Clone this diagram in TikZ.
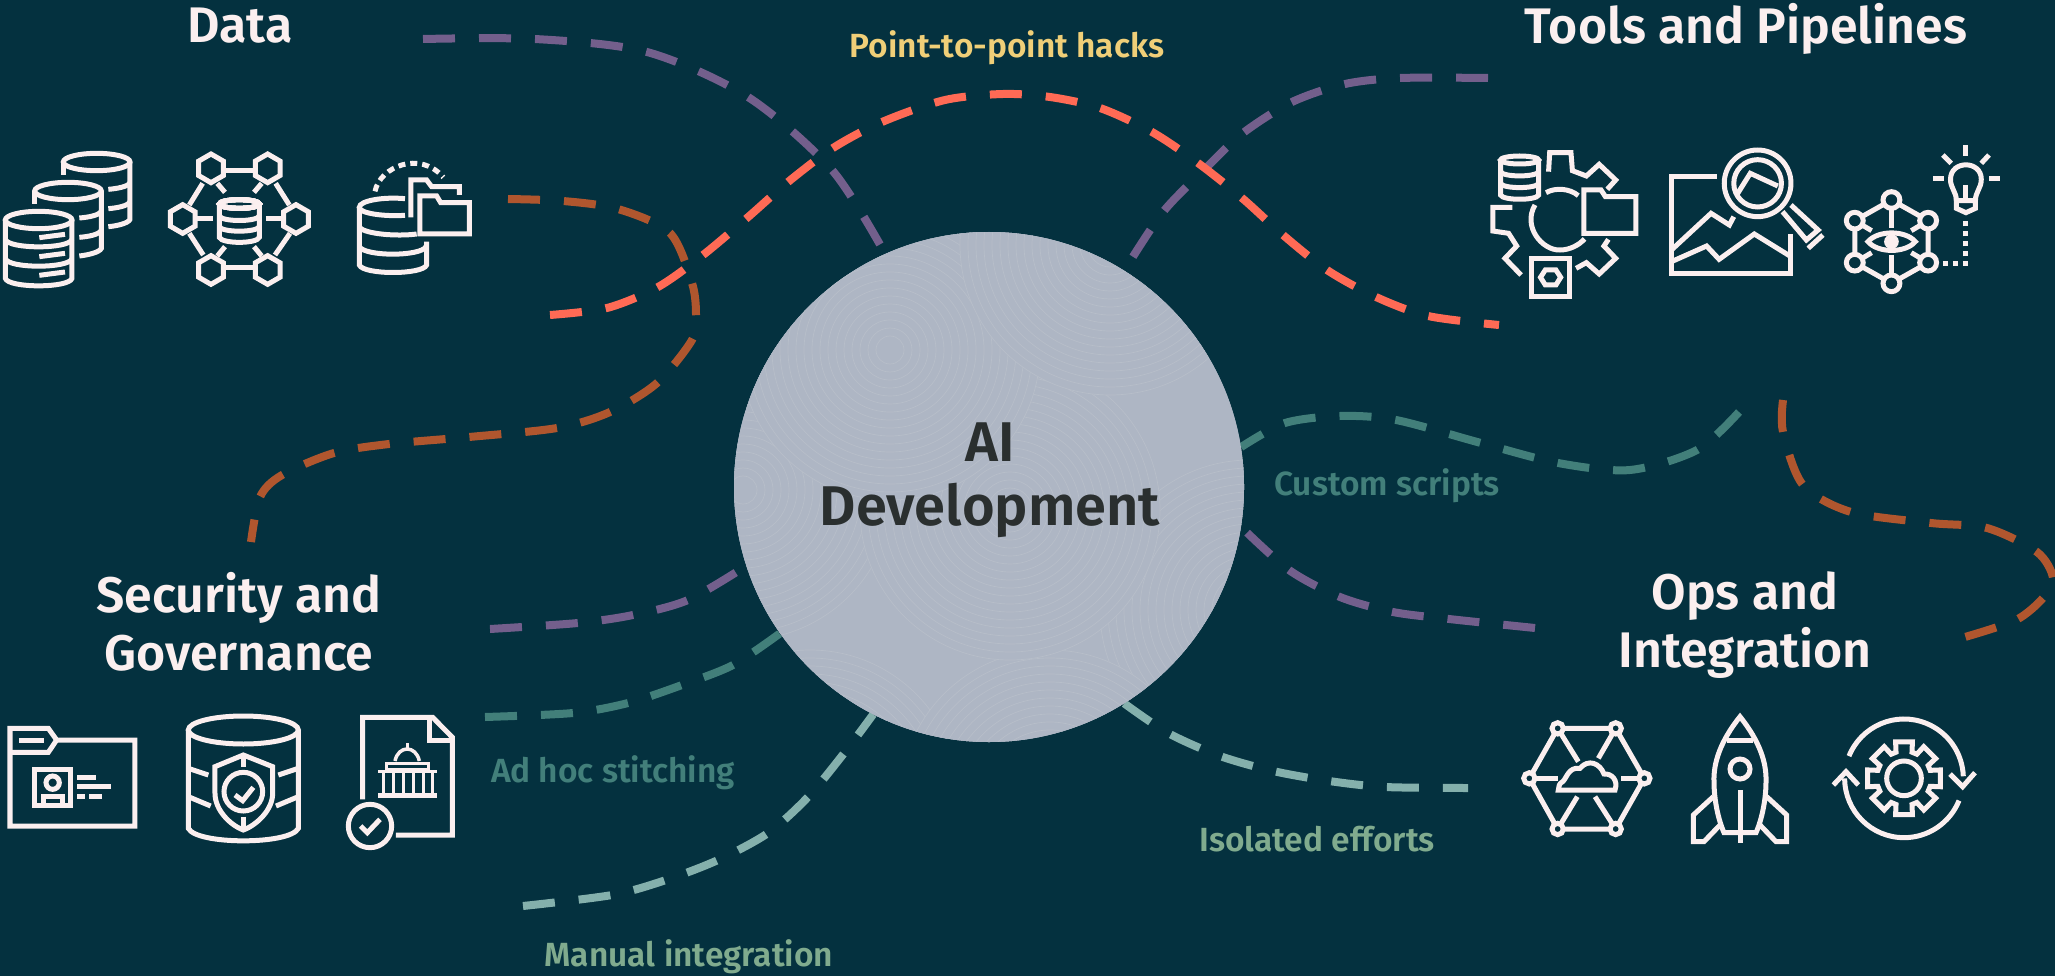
\documentclass[tikz,border=0pt]{standalone}
\usepackage{fontspec}
\setmainfont{Fira Sans}[BoldFont={Fira Sans SemiBold}]
\definecolor{bgc}{HTML}{04313F}
\definecolor{corec}{HTML}{AEB6C4}
\definecolor{swirlc}{HTML}{B7BEC9}
\definecolor{inkc}{HTML}{2A2F2F}
\definecolor{iconc}{HTML}{FBEFEF}
\definecolor{redc}{HTML}{FF6A55}
\definecolor{purplec}{HTML}{735F8C}
\definecolor{brownc}{HTML}{B0562E}
\definecolor{tealc}{HTML}{427F7A}
\definecolor{paletealc}{HTML}{84B0AC}
\definecolor{yellowc}{HTML}{F0CF78}
\definecolor{greenc}{HTML}{80AB8E}
\tikzset{
    title/.style={text=iconc, align=center, font={\fontsize{50}{58}\selectfont\bfseries}},
    tag/.style={font={\fontsize{33.5}{38}\selectfont\bfseries}},
    wire/.style={line width=8pt, dash pattern=on 32pt off 24pt},
    icon/.style={draw=iconc, line width=5pt},
    thin icon/.style={draw=iconc, line width=3.5pt},
    zoomed/.style={x=0.33333pt, y=-0.33333pt},
    zoomedb/.style={x=0.3667pt, y=-0.33333pt}
}
% pointy hexagon: x, y, radius
\newcommand{\hexat}[3]{\draw[icon, shift={(#1,#2)}] (90:#3) -- (30:#3) -- (-30:#3) -- (-90:#3) -- (-150:#3) -- (150:#3) -- cycle;}
\begin{document}
\begin{tikzpicture}[x=1pt, y=-1pt]
    \fill[bgc] (0,0) rectangle (2055,976);
    \useasboundingbox (0,0) rectangle (2055,976);

    % Hub
    \node[circle, fill=corec, minimum size=510pt, inner sep=0pt] (core) at (989,487) {};

    % Wire ends
    \coordinate (pa) at (423,39);
    \coordinate (pb) at (1488,78);
    \coordinate (pc) at (1535,628);
    \coordinate (pd) at (490,629);
    \coordinate (ra) at (550,315);
    \coordinate (rb) at (1499,325);
    \coordinate (ba) at (508,199);
    \coordinate (bb) at (251,542);
    \coordinate (bc) at (1783,400);
    \coordinate (bd) at (1965,637);
    \coordinate (ta) at (1739,412);
    \coordinate (tb) at (485,717);
    \coordinate (la) at (1468,788);
    \coordinate (lb) at (523,906);

    % Wires
    \draw[wire, purplec] plot[smooth] coordinates {(pa) (535,39) (647,52) (748,97) (832,170) (core.114.5)};
    \draw[wire, purplec] plot[smooth] coordinates {(pb) (1400,78) (1345,84) (1292,102) (1243,133) (1207,167) (1163,212) (core.58)};
    \draw[wire, purplec] plot[smooth] coordinates {(pc) (1449,619) (1393,612) (1340,597) (1289,570) (core.-9.5)};
    \draw[wire, purplec] plot[smooth] coordinates {(pd) (578,623) (633,615) (688,600) (core.-162)};
    \draw[wire, redc] plot[smooth] coordinates {(ra) (607,308) (658,287) (703,255) (747,218) (788,182) (833,148) (882,122) (945,100) (1003,94) (1050,97) (1100,108) (1152,132) (1198,163) (1242,198) (1283,235) (1327,270) (1376,297) (1428,316) (rb)};
    \draw[wire, brownc] plot[smooth] coordinates {(ba) (563,201) (618,209) (670,233) (692,283) (696,315) (692,340) (657,383) (610,412) (557,428) (469,437) (389,444) (334,453) (282,475) (260,497) (bb)};
    \draw[wire, brownc] plot[smooth] coordinates {(bc) (1783,432) (1803,485) (1851,512) (1931,523) (1987,528) (2037,552) (2053,578) (2043,598) (2016,620) (bd)};
    \draw[wire, tealc] plot[smooth] coordinates {(ta) (1697,450) (1630,470) (1558,463) (1481,443) (1396,420) (1340,416) (1285,423) (core.9)};
    \draw[wire, tealc] plot[smooth] coordinates {(tb) (573,713) (628,703) (682,685) (733,665) (core.-145)};
    \draw[wire, paletealc] plot[smooth] coordinates {(core.-58) (1168,733) (1220,756) (1273,771) (1329,781) (1385,787) (la)};
    \draw[wire, paletealc] plot[smooth] coordinates {(lb) (612,895) (666,880) (718,860) (768,833) (808,797) (845,752) (core.-117)};

    % Hub texture
    \node[circle, fill=corec, minimum size=510pt, inner sep=0pt] at (core.center) {};
    \begin{scope}
        \clip (989,487) circle[radius=255];
        \foreach \cx/\cy in {743/490, 1250/610, 810/800, 1050/800, 1010/510, 890/350, 1110/245}{
            \fill[corec] (\cx,\cy) circle[radius=150];
            \foreach \r in {14,22,...,150}
                \draw[swirlc, line width=0.7pt] (\cx,\cy) circle[radius=\r];
        }
    \end{scope}
    \node[text=inkc, align=center, font={\fontsize{56}{64}\selectfont\bfseries}] (corelabel) at (990,480) {AI\\Development};

    % Titles
    \node[title] (data) at (240,26) {Data};
    \node[title] (tools) at (1746,29) {Tools and Pipelines};
    \node[title] (security) at (239,622) {Security and\\Governance};
    \node[title] (ops) at (1745,625) {Ops and\\Integration};

    % Wire labels
    \node[tag, text=yellowc] (hacks) at (1007,48) {Point-to-point hacks};
    \node[tag, text=tealc] (scripts) at (1387,486) {Custom scripts};
    \node[tag, text=tealc] (stitching) at (613,773) {Ad hoc stitching};
    \node[tag, text=greenc] (isolated) at (1317,839) {Isolated efforts};
    \node[tag, text=greenc] (manual) at (689,957) {Manual integration};

    % Data icons
    \begin{scope}[shift={(0,130)}, zoomed]
        \draw[icon] (290,96) circle[x radius=100, y radius=26];
        \draw[icon] (190,96) -- (190,135);
        \draw[icon] (390,96) -- (390,268) .. controls (385,280) and (350,288) .. (325,290);
        \draw[icon] (325,178) .. controls (350,176) and (385,170) .. (390,158);
        \draw[icon] (325,236) .. controls (350,234) and (385,228) .. (390,215);
        \draw[icon] (204,183) circle[x radius=100, y radius=26];
        \draw[icon] (104,183) -- (104,222);
        \draw[icon] (304,183) -- (304,355) .. controls (299,367) and (264,375) .. (238,378);
        \draw[icon] (238,264) .. controls (264,262) and (299,256) .. (304,243);
        \draw[icon] (238,322) .. controls (264,320) and (299,314) .. (304,300);
        \draw[icon] (116,270) circle[x radius=100, y radius=26];
        \draw[icon] (16,270) -- (16,445) .. controls (25,475) and (207,475) .. (216,445) -- (216,270);
        \draw[icon] (16,328) .. controls (25,358) and (207,358) .. (216,328);
        \draw[icon] (16,386) .. controls (25,416) and (207,416) .. (216,386);
        \draw[icon] (118,323) -- (195,313);
        \draw[icon] (118,380) -- (195,370);
        \draw[icon] (118,436) -- (195,426);
        % network
        \draw[icon] (677,122) -- (760,122);
        \draw[icon] (677,412) -- (760,412);
        \draw[icon] (608,160) -- (568,225);
        \draw[icon] (827,160) -- (868,225);
        \draw[icon] (568,310) -- (610,375);
        \draw[icon] (870,310) -- (825,375);
        \draw[icon] (652,160) -- (675,187);
        \draw[icon] (785,160) -- (762,187);
        \draw[icon] (652,378) -- (675,350);
        \draw[icon] (785,378) -- (762,350);
        \draw[icon] (590,267) -- (638,267);
        \draw[icon] (798,267) -- (845,267);
        \foreach \hx/\hy in {633/115, 803/115, 548/267, 888/267, 633/420, 803/420}
            \hexat{\hx}{\hy}{43}
        \draw[icon] (718,222) circle[x radius=60, y radius=13];
        \draw[icon] (658,222) -- (658,322) .. controls (665,342) and (771,342) .. (778,322) -- (778,222);
        \draw[icon] (658,258) .. controls (665,276) and (771,276) .. (778,258);
        \draw[icon] (658,290) .. controls (665,308) and (771,308) .. (778,290);
        % database with folders
        \draw[icon] (1215,206) .. controls (1150,200) and (1078,212) .. (1078,232) .. controls (1078,250) and (1150,260) .. (1215,256);
        \draw[icon] (1078,232) -- (1078,405) .. controls (1090,435) and (1268,435) .. (1280,405) -- (1280,335);
        \draw[icon] (1078,292) .. controls (1095,312) and (1190,320) .. (1250,312);
        \draw[icon] (1078,350) .. controls (1095,380) and (1262,380) .. (1278,350);
        \draw[icon] (1233,262) -- (1233,150) -- (1280,150) -- (1295,170) -- (1378,170) -- (1378,195);
        \draw[icon] (1260,198) -- (1310,198) -- (1322,218) -- (1408,218) -- (1408,312) -- (1260,312) -- cycle;
        \draw[icon, dash pattern=on 7pt off 5pt] (1125,184) .. controls (1140,110) and (1260,60) .. (1330,142);
    \end{scope}

    % Tools icons
    \begin{scope}[shift={(1480,130)}, zoomedb]
        \draw[icon] (108,90) circle[x radius=52, y radius=12];
        \draw[icon] (56,90) -- (56,195) .. controls (62,212) and (154,212) .. (160,195) -- (160,90);
        \draw[icon] (56,125) .. controls (62,142) and (154,142) .. (160,125);
        \draw[icon] (56,160) .. controls (62,177) and (154,177) .. (160,160);
        \draw[icon] (187,125) -- (190,68) -- (248,68) -- (252,122) -- (290,138) -- (325,103) -- (370,150) -- (347,178);
        \draw[icon] (88,232) -- (35,232) -- (35,303) -- (78,310) -- (100,348) -- (68,385) -- (112,435);
        \draw[icon] (262,415) -- (290,398) -- (325,432) -- (370,385) -- (338,348) -- (350,328);
        \draw[icon] (180,188) .. controls (205,172) and (245,175) .. (268,197);
        \draw[icon] (150,225) .. controls (115,290) and (170,362) .. (218,360) .. controls (245,360) and (270,345) .. (285,327);
        \draw[icon] (283,310) -- (283,180) -- (330,180) -- (342,200) -- (425,200) -- (425,310) -- cycle;
        \draw[icon] (140,385) rectangle (245,500);
        \draw[icon] (165,442) -- (178,420) -- (207,420) -- (220,442) -- (207,465) -- (178,465) -- cycle;
        % picture and lens
        \draw[icon] (645,140) -- (522,140) -- (522,430) -- (848,430) -- (848,312);
        \draw[icon] (522,360) -- (630,250) -- (680,285) -- (692,260);
        \draw[icon] (522,395) -- (618,348) -- (652,388) -- (748,312) -- (848,380);
        \draw[icon] (757,160) circle[x radius=91, y radius=100];
        \draw[icon] (757,160) circle[x radius=65, y radius=71];
        \draw[icon] (700,195) -- (737,130) -- (812,168);
        \draw[icon] (825,245) -- (890,330) -- (922,300) -- (848,225);
        \draw[icon] (895,355) -- (935,315);
        % eye network and bulb
        \draw[icon] (1122,210) -- (1222,272) -- (1222,398) -- (1122,460) -- (1022,398) -- (1022,272) -- cycle;
        \draw[icon] (1122,210) -- (1122,295);
        \draw[icon] (1122,375) -- (1122,460);
        \draw[icon] (1022,272) -- (1068,302);
        \draw[icon] (1222,272) -- (1176,302);
        \draw[icon] (1022,398) -- (1068,368);
        \draw[icon] (1222,398) -- (1176,368);
        \foreach \nx/\ny in {1122/210, 1222/272, 1222/398, 1122/460, 1022/398, 1022/272}
            \draw[icon, fill=bgc] (\nx,\ny) circle[x radius=23, y radius=25];
        \draw[icon] (1058,335) .. controls (1085,300) and (1160,300) .. (1187,335) .. controls (1160,370) and (1085,370) .. cycle;
        \fill[iconc] (1122,335) circle[x radius=20, y radius=22];
        \draw[icon, dash pattern=on 5.5pt off 4.5pt] (1262,400) -- (1325,400) -- (1325,268);
        \draw[icon] (1299,212) .. controls (1299,185) and (1283,175) .. (1283,148) .. controls (1283,90) and (1367,90) .. (1367,148) .. controls (1367,175) and (1351,185) .. (1351,212);
        \draw[icon] (1299,212) -- (1299,235) -- (1325,248) -- (1351,235) -- (1351,212) -- cycle;
        \draw[icon] (1325,165) -- (1325,212);
        \draw[icon] (1325,45) -- (1325,78);
        \draw[icon] (1262,75) -- (1285,100);
        \draw[icon] (1388,75) -- (1367,100);
        \draw[icon] (1235,145) -- (1265,145);
        \draw[icon] (1388,145) -- (1417,145);
    \end{scope}

    % Security icons
    \begin{scope}[shift={(0,700)}, zoomed]
        \draw[icon] (30,85) -- (145,85) -- (170,120) -- (405,120) -- (405,378) -- (30,378) -- cycle;
        \draw[icon] (30,157) -- (145,157) -- (170,120);
        \draw[icon] (58,120) -- (132,120);
        \draw[icon] (105,207) rectangle (212,315);
        \draw[icon] (158,248) circle[radius=20];
        \draw[icon] (130,312) -- (130,290) -- (188,290) -- (188,312);
        \draw[icon] (232,232) -- (287,232);
        \draw[icon] (232,260) -- (332,260);
        \draw[icon] (232,288) -- (256,288);
        \draw[icon] (268,288) -- (305,288);
        % database with shield
        \draw[icon] (730,90) circle[x radius=165, y radius=42];
        \draw[icon] (565,90) -- (565,385) .. controls (590,435) and (870,435) .. (895,385) -- (895,90);
        \draw[icon] (565,205) -- (625,225);
        \draw[icon] (835,225) -- (895,205);
        \draw[icon] (565,290) -- (632,318);
        \draw[icon] (828,318) -- (895,290);
        \draw[icon] (730,165) -- (818,200) -- (818,280) .. controls (818,330) and (770,375) .. (730,390) .. controls (690,375) and (645,330) .. (645,280) -- (645,200) -- cycle;
        \draw[icon] (730,275) circle[radius=58];
        \draw[icon] (730,170) -- (730,200);
        \draw[icon] (730,350) -- (730,390);
        \draw[icon] (705,285) -- (728,302) -- (760,262);
        % document with building
        \draw[icon] (1088,298) -- (1088,52) -- (1298,52) -- (1357,112) -- (1357,405) -- (1188,405);
        \draw[icon] (1288,55) -- (1288,120) -- (1357,120);
        \draw[icon] (1110,378) circle[radius=65];
        \draw[icon] (1082,378) -- (1102,398) -- (1140,358);
        \draw[thin icon] (1185,183) .. controls (1195,135) and (1248,135) .. (1258,183);
        \draw[thin icon] (1222,130) -- (1222,145);
        \draw[thin icon] (1160,190) rectangle (1285,210);
        \draw[thin icon] (1135,215) -- (1310,215);
        \draw[icon] (1135,287) -- (1310,287);
        \foreach \cx in {1150,1180,1210,1240,1270,1298}
            \draw[thin icon] (\cx,218) -- (\cx,285);
    \end{scope}

    % Ops icons
    \begin{scope}[shift={(1500,700)}, zoomed]
        \draw[icon] (173,85) -- (347,85) -- (433,235) -- (347,387) -- (173,387) -- (88,235) -- cycle;
        \draw[icon] (173,85) -- (235,185);
        \draw[icon] (347,85) -- (295,175);
        \draw[icon] (88,235) -- (175,235);
        \draw[icon] (433,235) -- (362,235);
        \draw[icon] (173,387) -- (232,290);
        \draw[icon] (347,387) -- (285,290);
        \foreach \nx/\ny in {173/85, 347/85, 88/235, 433/235, 173/387, 347/387}
            \draw[icon, fill=bgc] (\nx,\ny) circle[radius=17];
        \draw[icon] (175,270) -- (345,270) .. controls (355,240) and (335,220) .. (312,222) .. controls (300,190) and (265,175) .. (240,205) .. controls (205,200) and (200,235) .. (188,245) .. controls (178,250) and (175,260) .. cycle;
        % rocket
        \draw[icon] (720,50) .. controls (660,125) and (640,190) .. (642,245) .. controls (642,300) and (655,360) .. (672,398) -- (768,398) .. controls (785,360) and (798,300) .. (798,245) .. controls (800,190) and (780,125) .. cycle;
        \draw[icon] (680,122) -- (760,122);
        \draw[icon] (720,207) circle[radius=30];
        \draw[icon] (720,270) -- (720,430);
        \draw[icon] (640,290) -- (580,345) -- (580,425) -- (612,425) -- (660,375);
        \draw[icon] (800,290) -- (860,345) -- (860,425) -- (828,425) -- (780,375);
        % gear and cycle
        \draw[icon] (1212,235) ++(202:178) arc[start angle=202, end angle=358, radius=178];
        \draw[icon] (1212,235) ++(180:178) arc[start angle=180, end angle=22, radius=178];
        \draw[icon] (1350,222) -- (1388,260) -- (1425,218);
        \draw[icon] (1000,255) -- (1038,215) -- (1075,255);
        \draw[icon] (1212,235) circle[radius=52];
        \draw[icon, shift={(1212,235)}] (-13:112) \foreach \a in {0,45,...,315} { -- ({\a-13}:112) -- ({\a+13}:112) -- ({\a+17}:82) -- ({\a+28}:82)} -- cycle;
    \end{scope}
\end{tikzpicture}
\end{document}
